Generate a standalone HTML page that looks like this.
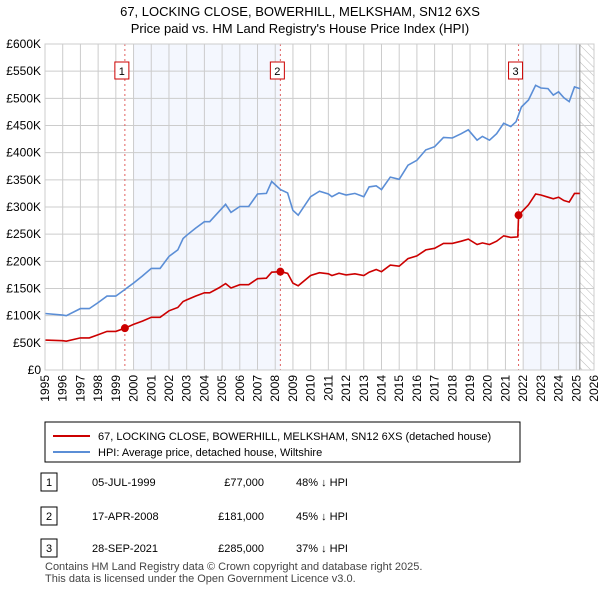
<!DOCTYPE html>
<html><head><meta charset="utf-8"><style>
body{margin:0;background:#fff;font-family:"Liberation Sans",sans-serif}
svg text{font-family:"Liberation Sans","DejaVu Sans",sans-serif}
</style></head><body>
<svg id="c" width="600" height="590" viewBox="0 0 600 590" xmlns="http://www.w3.org/2000/svg">
<defs><pattern id="hatch" width="6" height="6" patternUnits="userSpaceOnUse" patternTransform="rotate(-45)"><line x1="0" y1="0" x2="0" y2="6" stroke="#bbb" stroke-width="1"/></pattern></defs>
<text x="300" y="16" text-anchor="middle" font-size="13">67, LOCKING CLOSE, BOWERHILL, MELKSHAM, SN12 6XS</text>
<text x="300" y="33" text-anchor="middle" font-size="13">Price paid vs. HM Land Registry's House Price Index (HPI)</text>
<g id="plot"></g>
<g>
<rect x="45" y="422" width="475" height="40" fill="#fff" stroke="#000"/>
<line x1="53" y1="436" x2="90" y2="436" stroke="#cc0000" stroke-width="2"/>
<text x="98" y="440" font-size="11">67, LOCKING CLOSE, BOWERHILL, MELKSHAM, SN12 6XS (detached house)</text>
<line x1="53" y1="452" x2="90" y2="452" stroke="#5b8ed6" stroke-width="2"/>
<text x="98" y="456" font-size="11">HPI: Average price, detached house, Wiltshire</text>
</g>
<g font-size="11">
<rect x="41" y="473" width="16" height="18" fill="#fff" stroke="#000"/><text x="49" y="486" text-anchor="middle">1</text>
<text x="92" y="486">05-JUL-1999</text><text x="264" y="486" text-anchor="end">£77,000</text><text x="296" y="486">48% ↓ HPI</text>
<rect x="41" y="507" width="16" height="18" fill="#fff" stroke="#000"/><text x="49" y="520" text-anchor="middle">2</text>
<text x="92" y="520">17-APR-2008</text><text x="264" y="520" text-anchor="end">£181,000</text><text x="296" y="520">45% ↓ HPI</text>
<rect x="41" y="539" width="16" height="18" fill="#fff" stroke="#000"/><text x="49" y="552" text-anchor="middle">3</text>
<text x="92" y="552">28-SEP-2021</text><text x="264" y="552" text-anchor="end">£285,000</text><text x="296" y="552">37% ↓ HPI</text>
</g>
<text x="45" y="570" font-size="11" fill="#444">Contains HM Land Registry data © Crown copyright and database right 2025.</text>
<text x="45" y="582" font-size="11" fill="#444">This data is licensed under the Open Government Licence v3.0.</text>
</svg>
<script>
const hpiYears=[1995,1996,1996.2,1997,1997.5,1998,1998.5,1999,1999.5,2000,2000.5,2001,2001.5,2002,2002.5,2002.8,2003,2003.5,2004,2004.3,2004.8,2005.2,2005.5,2006,2006.5,2007,2007.5,2007.8,2008.3,2008.7,2009,2009.3,2010,2010.5,2011,2011.2,2011.6,2012,2012.5,2013,2013.3,2013.7,2014,2014.5,2015,2015.5,2016,2016.5,2017,2017.5,2018,2018.5,2018.9,2019.4,2019.7,2020.1,2020.5,2020.9,2021.3,2021.6,2021.9,2022.3,2022.7,2023,2023.4,2023.7,2024,2024.3,2024.6,2024.9,2025.2];
const hpiValues=[104,101,100,113,113,124,136,136,148,160,173,187,187,209,221,242,248,261,273,273,291,305,290,301,301,324,325,347,332,326,294,285,319,329,324,319,326,322,325,319,337,339,332,355,351,377,386,405,411,428,427,435,442,423,430,423,435,454,448,457,484,497,524,519,518,506,512,501,494,521,518];
const priceYears=[1995,1996,1996.2,1997,1997.5,1998,1998.5,1999,1999.5,2000,2000.5,2001,2001.5,2002,2002.5,2002.8,2003,2003.5,2004,2004.3,2004.8,2005.2,2005.5,2006,2006.5,2007,2007.5,2007.8,2008.3,2008.7,2009,2009.3,2010,2010.5,2011,2011.2,2011.6,2012,2012.5,2013,2013.3,2013.7,2014,2014.5,2015,2015.5,2016,2016.5,2017,2017.5,2018,2018.5,2018.9,2019.4,2019.7,2020.1,2020.5,2020.9,2021.3,2021.7,2021.74,2022.3,2022.7,2023,2023.4,2023.7,2024,2024.3,2024.6,2024.9,2025.2];
const priceValues=[55,54,53,59,59,65,71,71,77,84,90,97,97,109,115,126,129,136,142,142,151,159,151,157,157,168,169,180,181,178,160,155,174,179,177,174,178,175,177,174,180,185,181,193,191,205,210,221,224,233,233,237,241,231,234,231,237,247,244,245,285,304,324,322,318,315,318,312,309,325,325];
const saleYears=[1999.51,2008.29,2021.74];
const saleValues=[77,181,285];
const saleLabels=["1","2","3"];
const yTicks=[0,50,100,150,200,250,300,350,400,450,500,550,600];
const yTickLabels=["£0","£50K","£100K","£150K","£200K","£250K","£300K","£350K","£400K","£450K","£500K","£550K","£600K"];
const xTicks=[1995,1996,1997,1998,1999,2000,2001,2002,2003,2004,2005,2006,2007,2008,2009,2010,2011,2012,2013,2014,2015,2016,2017,2018,2019,2020,2021,2022,2023,2024,2025,2026];

const X0=45,X1=594,Y0=370,Y1=44;
const xs=y=>X0+(y-1995)/(2026-1995)*(X1-X0);
const ys=v=>Y0-v/600*(Y0-Y1);
const NS="http://www.w3.org/2000/svg";
const g=document.getElementById('plot');
function mk(t,a){const e=document.createElementNS(NS,t);for(const k in a)e.setAttribute(k,a[k]);g.appendChild(e);return e;}
let e;
e=mk('rect',{x:xs(2000),y:Y1,width:xs(2008.29)-xs(2000),height:Y0-Y1,fill:'#f4f7fe'});


e=mk('rect',{x:xs(2022),y:Y1,width:xs(2025.2)-xs(2022),height:Y0-Y1,fill:'#f4f7fe'});


e=mk('rect',{x:xs(2025.2),y:Y1,width:X1-xs(2025.2),height:Y0-Y1,fill:'url(#hatch)'});


yTicks.forEach((t,i)=>{
 e=mk('line',{x1:X0,x2:X1,y1:ys(t),y2:ys(t),stroke:'#ccc'});
 
 
 e=mk('text',{x:X0-4,y:ys(t)+4,'text-anchor':'end','font-size':'12'});e.textContent=yTickLabels[i];
 
 
});
xTicks.forEach(t=>{
 e=mk('line',{x1:xs(t),x2:xs(t),y1:Y1,y2:Y0,stroke:'#ccc'});
 
 
 e=mk('text',{x:0,y:0,'text-anchor':'end','font-size':'12',transform:`translate(${xs(t)+4},${Y0+5}) rotate(-90)`});e.textContent=t;
 
 
});
e=mk('line',{x1:xs(2025.2),x2:xs(2025.2),y1:Y1,y2:Y0,stroke:'#888'});


saleYears.forEach((s,i)=>{
 e=mk('line',{x1:xs(s),x2:xs(s),y1:Y1,y2:Y0,stroke:'#e06060','stroke-dasharray':'2,3'});
 
 
});
const pts=(xa,va)=>xa.map((x,i)=>xs(x).toFixed(1)+','+ys(va[i]).toFixed(1)).join(' ');
e=mk('polyline',{points:pts(hpiYears,hpiValues),fill:'none',stroke:'#5b8ed6','stroke-width':1.6});


e=mk('polyline',{points:pts(priceYears,priceValues),fill:'none',stroke:'#cc0000','stroke-width':1.6});


saleYears.forEach((s,i)=>{
 e=mk('circle',{cx:xs(s),cy:ys(saleValues[i]),r:4,fill:'#cc0000'});
 
 
 e=mk('rect',{x:xs(s)-10,y:62,width:14,height:17,fill:'#fff',stroke:'#cc0000'});
 
 
 e=mk('text',{x:xs(s)-3,y:75,'text-anchor':'middle','font-size':'11'});e.textContent=saleLabels[i];
 
 
});
e=mk('rect',{x:X0,y:Y1,width:X1-X0,height:Y0-Y1,fill:'none',stroke:'#ccc'});


</script>
</body></html>
